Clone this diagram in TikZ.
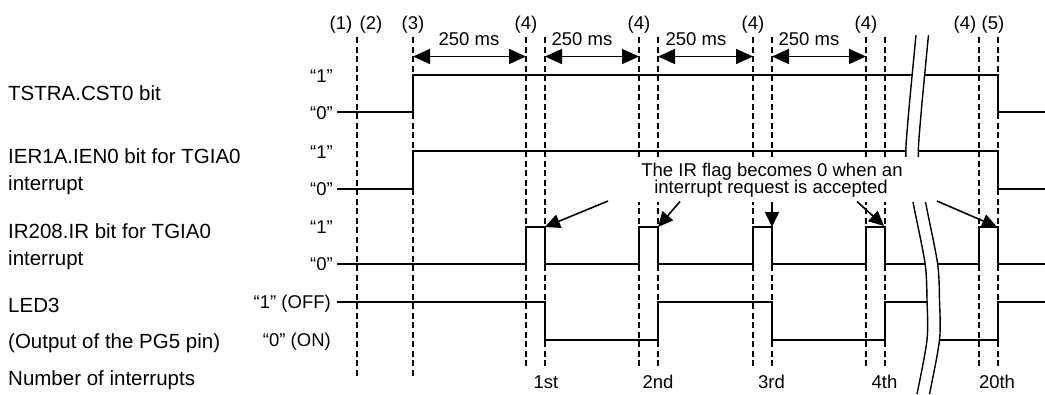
\documentclass[tikz,border=0pt]{standalone}
\usepackage{fontspec}
\setmainfont{Liberation Sans}
\usetikzlibrary{arrows.meta}
\begin{document}
\begin{tikzpicture}[x=1pt,y=-1pt,
  sig/.style={line width=1.8pt},
  guide/.style={line width=2.8pt, dash pattern=on 6pt off 3.5pt},
  pointer/.style={-{Triangle[length=15pt,width=14pt]}, line width=1.6pt},
  dimline/.style={{Triangle[length=17pt,width=15pt]}-{Triangle[length=17pt,width=15pt]}, line width=1.6pt},
  lbl/.style={font=\fontsize{20.5}{24}\selectfont, anchor=base west, inner sep=0},
  lvl/.style={font=\fontsize{18.5}{20}\selectfont, anchor=base east, inner sep=0},
  txt/.style={font=\fontsize{18.5}{20}\selectfont, anchor=base, inner sep=0},
]
\useasboundingbox (0,0) rectangle (1045,394);

% left labels
\node[lbl] (l1) at (8,100) {TSTRA.CST0 bit};
\node[lbl] (l2a) at (8,163) {IER1A.IEN0 bit for TGIA0};
\node[lbl] (l2b) at (8,190) {interrupt};
\node[lbl] (l3a) at (8,238) {IR208.IR bit for TGIA0};
\node[lbl] (l3b) at (8,265) {interrupt};
\node[lbl] (l4a) at (8,312) {LED3};
\node[lbl] (l4b) at (8,348) {(Output of the PG5 pin)};
\node[lbl] (l5) at (8,385) {Number of interrupts};

% level labels
\node[lvl] (v1h) at (333,82) {“1”};
\node[lvl] (v1l) at (333,119) {“0”};
\node[lvl] (v2h) at (333,158) {“1”};
\node[lvl] (v2l) at (333,195) {“0”};
\node[lvl] (v3h) at (333,233) {“1”};
\node[lvl] (v3l) at (333,270) {“0”};
\node[lvl] (v4h) at (331,308) {“1” (OFF)};
\node[lvl] (v4l) at (331,346) {“0” (ON)};

% signals
\draw[sig] (337,112) -- (413,112) -- (413,75) -- (998,75) -- (998,112) -- (1045,112);
\draw[sig] (337,189) -- (413,189) -- (413,151) -- (998,151) -- (998,189) -- (1045,189);
\draw[sig] (337,264) -- (526,264) -- (526,227) -- (545,227) -- (545,264)
  -- (639,264) -- (639,227) -- (658,227) -- (658,264)
  -- (753,264) -- (753,227) -- (772,227) -- (772,264)
  -- (866,264) -- (866,227) -- (885,227) -- (885,264)
  -- (979,264) -- (979,227) -- (998,227) -- (998,264) -- (1045,264);
\draw[sig] (337,302) -- (545,302) -- (545,340) -- (658,340) -- (658,302)
  -- (772,302) -- (772,340) -- (885,340) -- (885,302) -- (933,302)
  -- (933,340) -- (998,340) -- (998,302) -- (1045,302);

% guide lines
\foreach \gx in {357,413} \draw[guide] (\gx,37) -- (\gx,377);
\foreach \gx in {526,545,639,658,753,772,866,885,979,998} \draw[guide] (\gx,37) -- (\gx,367);

% top labels
\node[txt] (t1) at (341,29) {(1)};
\node[txt] (t2) at (371,29) {(2)};
\node[txt] (t3) at (413,29) {(3)};
\node[txt] (t4a) at (526,29) {(4)};
\node[txt] (t4b) at (639,29) {(4)};
\node[txt] (t4c) at (753,29) {(4)};
\node[txt] (t4d) at (866,29) {(4)};
\node[txt] (t4e) at (965,29) {(4)};
\node[txt] (t5) at (993,29) {(5)};

% 250 ms dimensions
\coordinate (d1a) at (413,56.5); \coordinate (d1b) at (526,56.5);
\coordinate (d2a) at (545,56.5); \coordinate (d2b) at (639,56.5);
\coordinate (d3a) at (658,56.5); \coordinate (d3b) at (753,56.5);
\coordinate (d4a) at (772,56.5); \coordinate (d4b) at (866,56.5);
\draw[dimline] (d1a) -- (d1b);
\draw[dimline] (d2a) -- (d2b);
\draw[dimline] (d3a) -- (d3b);
\draw[dimline] (d4a) -- (d4b);
\node[txt] (m1) at (469,45) {250 ms};
\node[txt] (m2) at (582,45) {250 ms};
\node[txt] (m3) at (696,45) {250 ms};
\node[txt] (m4) at (809,45) {250 ms};

% interrupt counts
\node[txt] (c1) at (546,388) {1st};
\node[txt] (c2) at (658,388) {2nd};
\node[txt] (c3) at (771.5,388) {3rd};
\node[txt] (c4) at (884.5,388) {4th};
\node[txt] (c20) at (997,388) {20th};

% break mark
\fill[white] plot[smooth] coordinates {(916,35) (908,120) (906,160) (913,202) (925,263) (927,300) (927,340) (917,394)}
  -- plot[smooth] coordinates {(929.5,394) (939.5,340) (939.5,300) (937.5,263) (925.5,202) (918.5,160) (920.5,120) (928.5,35)} -- cycle;
\draw[line width=1.4pt] plot[smooth] coordinates {(916,35) (908,120) (906,160) (913,202) (925,263) (927,300) (927,340) (917,394)};
\draw[line width=1.4pt] plot[smooth] coordinates {(928.5,35) (920.5,120) (918.5,160) (925.5,202) (937.5,263) (939.5,300) (939.5,340) (929.5,394)};

% annotation
\fill[white] (634,157) rectangle (928,202);
\node[txt] (n1) at (772,176) {The IR flag becomes 0 when an};
\node[txt] (n2) at (771,193.5) {interrupt request is accepted};
\coordinate (s1) at (608,201); \coordinate (e1) at (545,227);
\coordinate (s2) at (680,201.5); \coordinate (e2) at (658,227);
\coordinate (s3) at (772,201.5); \coordinate (e3) at (772,227);
\coordinate (s4) at (857,201.5); \coordinate (e4) at (884,226);
\coordinate (s5) at (937,201); \coordinate (e5) at (997,227);
\draw[pointer] (s1) -- (e1);
\draw[pointer] (s2) -- (e2);
\draw[pointer] (s3) -- (e3);
\draw[pointer] (s4) -- (e4);
\draw[pointer] (s5) -- (e5);
\end{tikzpicture}
\end{document}
